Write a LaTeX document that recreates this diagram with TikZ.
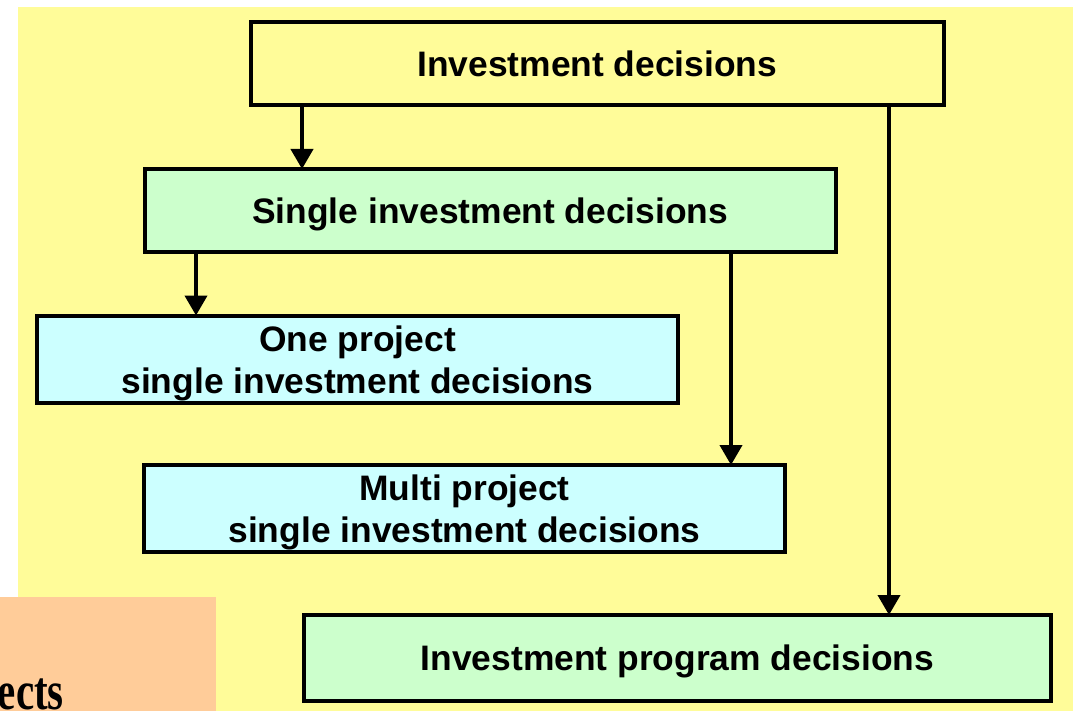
\documentclass[tikz,border=0pt]{standalone}
\usepackage{fontspec}
\setmainfont{Liberation Sans}
\newfontfamily\titleserif{Liberation Serif}
\usetikzlibrary{arrows.meta}
\definecolor{bgyellow}{HTML}{FFFC99}
\definecolor{peach}{HTML}{FFCC99}
\definecolor{mint}{HTML}{CCFFCC}
\definecolor{ice}{HTML}{CCFFFF}
\tikzset{
  box/.style={draw=black, line width=4pt, inner sep=0pt, outer sep=0pt,
    text depth=0pt, align=center, font=\fontsize{35.4}{42}\selectfont\bfseries},
  link/.style={line width=4pt, -{Triangle[width=22pt,length=20pt]}}
}
\begin{document}
\begin{tikzpicture}[x=1pt,y=-1pt]
\useasboundingbox (0,0) rectangle (1073,711);
\clip (0,0) rectangle (1073,711);
% backgrounds
\fill[white] (0,0) rectangle (1073,711);
\fill[bgyellow] (18,7) rectangle (1073,711);
\fill[peach] (0,597) rectangle (216,711);
\node[anchor=base east, inner sep=0pt, font=\titleserif\bfseries\fontsize{41}{44}\selectfont] (proj) at (64,709) {\scalebox{1}[1.33]{Projects}};
% decision boxes
\node[box, fill=bgyellow, minimum width=693.5pt, minimum height=83.5pt] (inv) at (597.25,63.75) {Investment decisions};
\node[box, fill=mint, minimum width=691.5pt, minimum height=83.5pt] (single) at (490.25,210.75) {Single investment decisions};
\node[box, fill=ice, minimum width=641pt, minimum height=87.5pt] (one) at (357.5,359.25) {One project\\single investment decisions};
\node[box, fill=ice, minimum width=641pt, minimum height=87pt] (multi) at (464.5,508.5) {Multi project\\single investment decisions};
\node[box, fill=mint, minimum width=747pt, minimum height=85.5pt] (prog) at (677.5,657.75) {Investment program decisions};
% connectors
\draw[link] (inv.south -| 302,0) -- (single.north -| 302,0);
\draw[link] (inv.south -| 889,0) -- (prog.north -| 889,0);
\draw[link] (single.south -| 196,0) -- (one.north -| 196,0);
\draw[link] (single.south -| 731,0) -- (multi.north -| 731,0);
\end{tikzpicture}
\end{document}
